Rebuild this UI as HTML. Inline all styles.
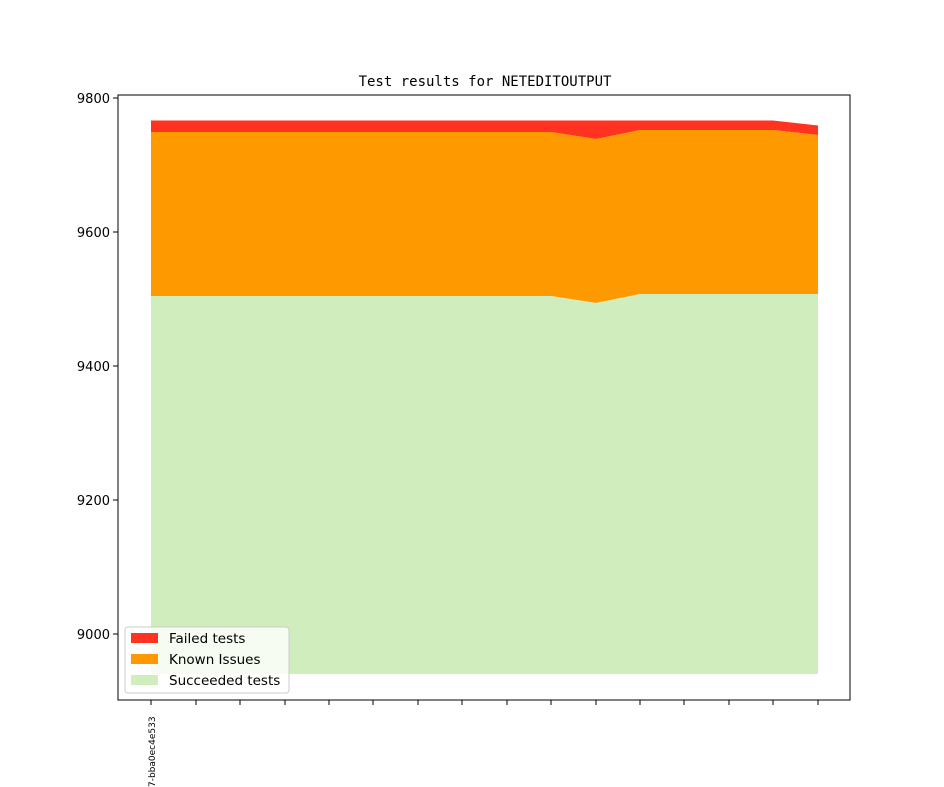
<!DOCTYPE html>
<html><head><style>body{margin:0;background:#fff}svg{display:block}text{font-family:"DejaVu Sans","Liberation Sans",sans-serif}text.mono{font-family:"DejaVu Sans Mono","Liberation Mono",monospace}</style></head>
<body>
<svg width="944" height="787" viewBox="0 0 944 787" xmlns="http://www.w3.org/2000/svg">
<rect width="944" height="787" fill="#fff"/>
<polygon fill="#ff3320" points="151,120.5 773,120.5 818,125.5 818,135 773,130 640,130 596,139 551,132 151,132"/>
<polygon fill="#ff9900" points="151,132 551,132 596,139 640,130 773,130 818,135 818,294 640,294 596,303 551,296 151,296"/>
<polygon fill="#d0edbd" points="151,296 551,296 596,303 640,294 818,294 818,674 151,674"/>
<rect x="118" y="95" width="732" height="605" fill="none" stroke="#000" stroke-width="1"/>
<g stroke="#000" stroke-width="1">
<line x1="113" y1="98" x2="118" y2="98"/><line x1="113" y1="232" x2="118" y2="232"/><line x1="113" y1="366" x2="118" y2="366"/><line x1="113" y1="500" x2="118" y2="500"/><line x1="113" y1="634" x2="118" y2="634"/>
<line x1="151" y1="700" x2="151" y2="705"/><line x1="196" y1="700" x2="196" y2="705"/><line x1="240" y1="700" x2="240" y2="705"/><line x1="285" y1="700" x2="285" y2="705"/><line x1="329" y1="700" x2="329" y2="705"/><line x1="373" y1="700" x2="373" y2="705"/><line x1="418" y1="700" x2="418" y2="705"/><line x1="462" y1="700" x2="462" y2="705"/><line x1="507" y1="700" x2="507" y2="705"/><line x1="551" y1="700" x2="551" y2="705"/><line x1="596" y1="700" x2="596" y2="705"/><line x1="640" y1="700" x2="640" y2="705"/><line x1="684" y1="700" x2="684" y2="705"/><line x1="729" y1="700" x2="729" y2="705"/><line x1="773" y1="700" x2="773" y2="705"/><line x1="818" y1="700" x2="818" y2="705"/>
</g>
<g font-size="13" text-anchor="end">
<text x="110" y="103">9800</text><text x="110" y="237">9600</text><text x="110" y="371">9400</text><text x="110" y="505">9200</text><text x="110" y="639">9000</text>
</g>
<text class="mono" x="485" y="86" font-size="14" text-anchor="middle">Test results for NETEDITOUTPUT</text>
<text transform="translate(155,787) rotate(-90)" font-size="9">7-bba0ec4e533</text>
<rect x="125" y="627" width="164" height="66" rx="3" fill="#fff" fill-opacity="0.8" stroke="#ccc"/>
<rect x="131" y="633" width="27" height="10" fill="#ff3320"/>
<rect x="131" y="654" width="27" height="10" fill="#ff9900"/>
<rect x="131" y="675" width="27" height="10" fill="#d0edbd"/>
<g font-size="13.5"><text x="169" y="643">Failed tests</text><text x="169" y="664">Known Issues</text><text x="169" y="685">Succeeded tests</text></g>
</svg>
</body></html>
